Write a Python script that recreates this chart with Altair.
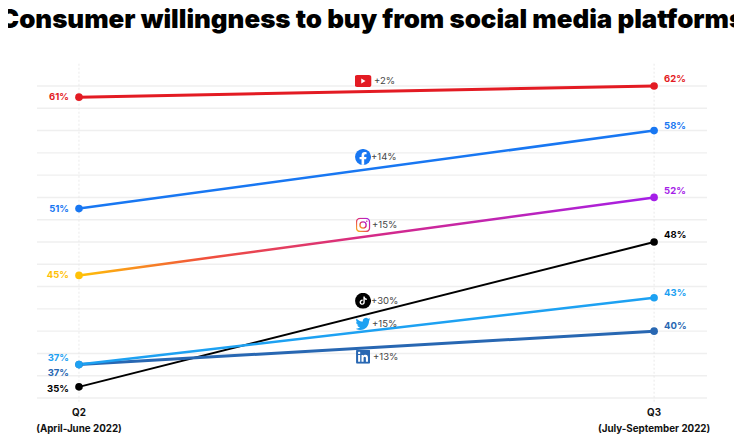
import base64
import altair as alt
import pandas as pd

FONT = "Inter"
TITLE = "Consumer willingness to buy from social media platforms"

platforms = ["YouTube", "Facebook", "Instagram", "TikTok", "LinkedIn", "Twitter"]
q2_values = [61, 51, 45, 35, 37, 37]
q3_values = [62, 58, 52, 48, 40, 43]
changes = ["+2%", "+14%", "+15%", "+30%", "+13%", "+15%"]
icon_levels = [62.45, 55.63, 49.53, 42.72, 37.7, 40.65]
q2_colors = ["#e31b23", "#1877f2", "#ffc107", "#000000", "#2867b2", "#1da1f2"]
q3_colors = ["#e31b23", "#1877f2", "#a51ee8", "#000000", "#2867b2", "#1da1f2"]
q2_label_shift = [0, 0, 0, 2, 8, -7]
q3_label_shift = [-7, -5, -6, -7, -5, -5]
line_widths = [3, 2.5, 2.5, 2, 3, 2.5]
icon_sizes = [17, 16, 15, 16, 14, 15]
change_dx = [7.5, 4.5, 5.5, 4.5, 6.5, 5.5]
periods = [0, 1]
y_grid = list(range(34, 64, 2))


def uri(svg):
    body = '<svg xmlns="http://www.w3.org/2000/svg" viewBox="0 0 24 24">' + svg + "</svg>"
    return "data:image/svg+xml;base64," + base64.b64encode(body.encode()).decode()


icons = [
    uri('<rect y="3.5" width="24" height="17" rx="4" fill="#e31b23"/><path d="M9.5 8.5v7l6-3.500z" fill="#fff"/>'),
    uri('<circle cx="12" cy="12" r="12" fill="#1877f2"/><path d="M16.700 15.500l.5-3.500h-3.500V9.800c0-1 .5-1.900 2-1.900h1.600v-3s-1.400-.3-2.800-.3c-2.800 0-4.700 1.700-4.700 4.900V12H6.800v3.500h3v8.300c.7.100 1.300.200 2 .200s1.300-.1 1.900-.2v-8.300z" fill="#fff"/>'),
    uri('<defs><linearGradient id="g" x1="0" y1="1" x2="1" y2="0"><stop offset="0" stop-color="#fdb913"/><stop offset=".5" stop-color="#e1306c"/><stop offset="1" stop-color="#a51ee8"/></linearGradient></defs>'
        '<rect x="1.500" y="1.500" width="21" height="21" rx="6" fill="#fff" stroke="url(#g)" stroke-width="2.200"/>'
        '<circle cx="12" cy="12" r="5" fill="none" stroke="url(#g)" stroke-width="2.200"/><circle cx="18" cy="6" r="1.300" fill="#d6249f"/>'),
    uri('<circle cx="12" cy="12" r="12" fill="#000"/><g transform="translate(6 5.500) scale(.52)"><path fill="#fff" d="M12.525.02c1.310-.02 2.610-.01 3.910-.02.08 1.530.63 3.090 1.750 4.170 1.120 1.110 2.700 1.620 4.240 1.790v4.030c-1.440-.05-2.890-.35-4.200-.97-.57-.26-1.100-.59-1.620-.93-.01 2.920.01 5.840-.02 8.750-.08 1.400-.54 2.790-1.350 3.940-1.310 1.920-3.580 3.170-5.910 3.210-1.430.08-2.860-.31-4.080-1.030-2.020-1.190-3.440-3.370-3.650-5.710-.02-.5-.03-1-.01-1.490.18-1.900 1.120-3.720 2.580-4.960 1.660-1.440 3.980-2.130 6.150-1.720.02 1.480-.04 2.960-.04 4.440-.99-.32-2.150-.23-3.020.37-.63.41-1.110 1.040-1.360 1.750-.21.51-.15 1.070-.14 1.610.24 1.640 1.820 3.020 3.500 2.870 1.120-.01 2.190-.66 2.770-1.610.19-.33.4-.67.41-1.060.1-1.790.06-3.570.07-5.360.01-4.030-.01-8.050.02-12.070z"/></g>'),
    uri('<rect width="24" height="24" rx="2" fill="#2867b2"/><path fill="#fff" d="M20.447 20.452h-3.554v-5.569c0-1.328-.027-3.037-1.852-3.037-1.853 0-2.136 1.445-2.136 2.939v5.667H9.351V9h3.414v1.561h.046c.477-.9 1.637-1.850 3.370-1.850 3.601 0 4.267 2.370 4.267 5.455v6.286zM5.337 7.433c-1.144 0-2.063-.926-2.063-2.065 0-1.138.92-2.063 2.063-2.063 1.140 0 2.064.925 2.064 2.063 0 1.139-.925 2.065-2.064 2.065zm1.782 13.019H3.555V9h3.564v11.452z"/>'),
    uri('<path fill="#1da1f2" d="M23.953 4.570a10 10 0 01-2.825.775 4.958 4.958 0 002.163-2.723c-.951.555-2.005.959-3.127 1.184a4.920 4.920 0 00-8.384 4.482C7.690 8.095 4.067 6.130 1.640 3.162a4.822 4.822 0 00-.666 2.475c0 1.710.87 3.213 2.188 4.096a4.904 4.904 0 01-2.228-.616v.06a4.923 4.923 0 003.946 4.827 4.996 4.996 0 01-2.212.085 4.936 4.936 0 004.604 3.417 9.867 9.867 0 01-6.102 2.105c-.39 0-.779-.023-1.170-.067a13.995 13.995 0 007.557 2.209c9.053 0 13.998-7.496 13.998-13.985 0-.21 0-.42-.015-.63A9.935 9.935 0 0024 4.590z"/>'),
]

x_scale = alt.Scale(domain=[-0.073, 1.092], nice=False, zero=False)
y_scale = alt.Scale(domain=[34, 62], nice=False, zero=False)
X = alt.X("x:Q", scale=x_scale, axis=None)
Y = alt.Y("y:Q", scale=y_scale, axis=None)

y_axis_layer = (
    alt.Chart(pd.DataFrame({"y": y_grid}))
    .mark_rule(color="#efefef", strokeWidth=1.4)
    .encode(y=Y)
)
x_axis_layer = (
    alt.Chart(pd.DataFrame({"x": periods, "y": [64, 64]}))
    .mark_rule(color="#e4e4e4", strokeWidth=0.8, strokeDash=[2, 2])
    .encode(x=X, y=alt.Y("y:Q", scale=y_scale, axis=None), y2=alt.value(316))
)

layers = [y_axis_layer, x_axis_layer]
for i, name in enumerate(platforms):
    df = pd.DataFrame({"x": periods, "y": [q2_values[i], q3_values[i]]})
    if name == "Instagram":
        stroke = alt.Gradient(
            gradient="linear", x1=0, y1=0, x2=1, y2=0,
            stops=[
                alt.GradientStop(color="#ffc107", offset=0),
                alt.GradientStop(color="#f0503c", offset=0.22),
                alt.GradientStop(color="#d62a85", offset=0.5),
                alt.GradientStop(color="#a51ee8", offset=1),
            ],
        )
    else:
        stroke = q2_colors[i]
    layers.append(alt.Chart(df).mark_line(stroke=stroke, strokeWidth=line_widths[i]).encode(x=X, y=Y))

for i, name in enumerate(platforms):
    colors = [q2_colors[i], q3_colors[i]]
    shifts = [q2_label_shift[i], q3_label_shift[i]]
    for j in range(2):
        vals = [q2_values[i], q3_values[i]]
        d = pd.DataFrame({"x": [periods[j]], "y": [vals[j]], "t": [f"{vals[j]}%"]})
        layers.append(alt.Chart(d).mark_circle(size=58, opacity=1, color=colors[j]).encode(x=X, y=Y))
        layers.append(
            alt.Chart(d)
            .mark_text(
                font=FONT, fontWeight=700, fontSize=9.5, color=colors[j],
                align="right" if j == 0 else "left",
                dx=-10 if j == 0 else 10, dy=shifts[j],
            )
            .encode(x=X, y=Y, text="t:N")
        )

for i in range(len(platforms)):
    ann = pd.DataFrame({"x": [0.5], "y": [icon_levels[i]], "u": [icons[i]], "t": [changes[i]]})
    layers.append(
        alt.Chart(ann)
        .mark_image(width=icon_sizes[i], height=icon_sizes[i], xOffset=-3.5)
        .encode(x=X, y=Y, url="u:N")
    )
    layers.append(
        alt.Chart(ann)
        .mark_text(font=FONT, fontSize=9.5, color="#444444", align="left", dx=change_dx[i])
        .encode(x=X, y=Y, text="t:N")
    )

period_labels = pd.DataFrame(
    {"x": periods, "y": [34, 34], "t": ["Q2\n(April-June 2022)", "Q3\n(July-September 2022)"]}
)
layers.append(
    alt.Chart(period_labels)
    .mark_text(font=FONT, fontWeight=700, fontSize=9.8, color="#111111", lineBreak="\n", lineHeight=16, baseline="top", dy=10)
    .encode(x=X, y=Y, text="t:N")
)

chart = (
    alt.layer(*layers)
    .properties(
        width=670,
        height=312,
        autosize=alt.AutoSizeParams(type="none"),
        padding={"left": 29, "top": 78, "right": 27, "bottom": 36},
        title=alt.TitleParams(
            TITLE, font=FONT, fontWeight=900, fontSize=25.9, color="#000000",
            anchor="middle", frame="group", offset=29,
        ),
    )
    .configure_view(stroke=None)
)
chart.save("out.html", embed_options={"renderer": "svg", "actions": False})
